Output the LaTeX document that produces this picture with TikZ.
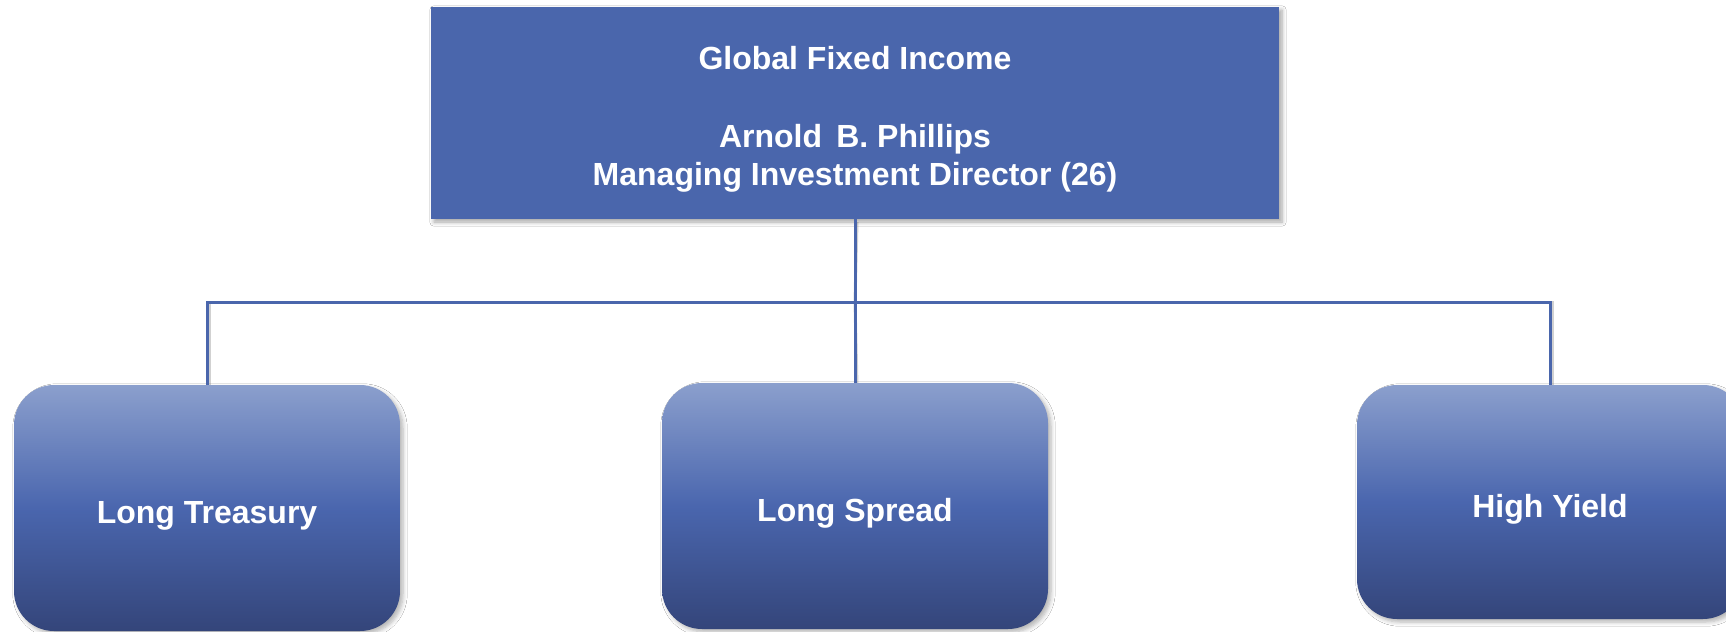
\documentclass[tikz,border=0pt]{standalone}
\usepackage{fontspec}
\setmainfont{Liberation Sans}
\usetikzlibrary{shadows.blur}
\definecolor{topblue}{HTML}{4A66AC}
\definecolor{gtop}{HTML}{8B9FCD}
\definecolor{gmid}{HTML}{4A66AE}
\definecolor{gbot}{HTML}{34457A}
\begin{document}
\begin{tikzpicture}[x=0.5pt,y=-0.5pt,
  headbox/.style={rectangle, fill=topblue, minimum width=424pt, minimum height=106pt,
    text=white, align=center, font=\fontsize{16}{19}\selectfont\bfseries,
    blur shadow={shadow xshift=1.5pt, shadow yshift=-1.5pt, shadow blur steps=6, shadow opacity=35}},
  unitbox/.style={rectangle, rounded corners=20pt, top color=gtop, bottom color=gbot, middle color=gmid,
    minimum width=193pt, text=white, font=\fontsize{16}{19}\selectfont\bfseries,
    text height=15pt, text depth=0pt,
    blur shadow={shadow xshift=1.5pt, shadow yshift=-1.5pt, shadow blur steps=6, shadow opacity=30}},
  link/.style={draw=topblue, line width=1.5pt},
  linkshadow/.style={draw=black!18, line width=1.5pt}]
\useasboundingbox (0,0) rectangle (1726,632);
\clip (0,0) rectangle (1726,632);
\fill[white] (0,0) rectangle (1726,632);
\coordinate (bus) at (855,302);
% connector shadows
\begin{scope}[shift={(2,3)}]
\draw[linkshadow] (855,219) -- (bus);
\draw[linkshadow] (207,385) |- (bus) -| (1550,385);
\draw[linkshadow] (bus) -- (855,383);
\end{scope}
\node[headbox] (gfi) at (855,113) {\rule{0pt}{18pt}Global Fixed Income\\[20pt]Arnold\, B. Phillips\\Managing Investment Director (26)};
\node[unitbox, minimum height=123pt] (lt) at (207,508) {Long Treasury};
\node[unitbox, minimum height=123pt] (ls) at (855,506) {Long Spread};
\node[unitbox, minimum height=117pt] (hy) at (1550,502) {High Yield};
\draw[link] (gfi.south) -- (bus);
\draw[link] (lt.north) |- (bus) -| (hy.north);
\draw[link] (bus) -- (ls.north);
\end{tikzpicture}
\end{document}
